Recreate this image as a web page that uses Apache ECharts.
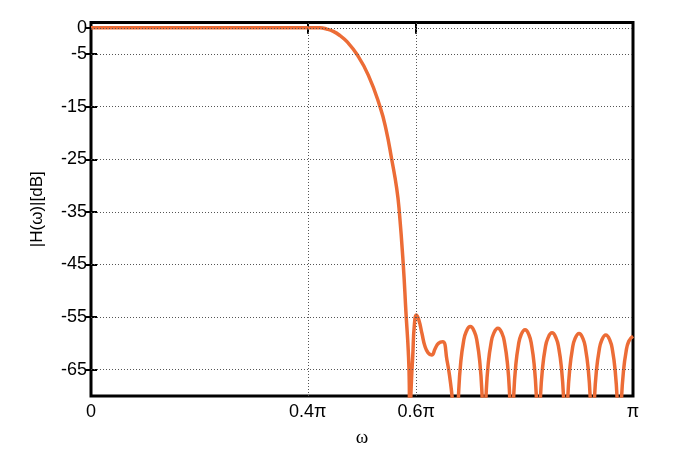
<!DOCTYPE html>
<html>
<head>
<meta charset="utf-8">
<script src="https://cdn.jsdelivr.net/npm/echarts@6/dist/echarts.min.js"></script>
<style>
html,body{margin:0;padding:0;background:#fff;}
#chart{width:700px;height:466px;}
</style>
</head>
<body>
<div id="chart"></div>
<script>
// frequency in units of pi
var omega = [
  0, 0.10, 0.20, 0.30, 0.40, 0.4225, 0.435, 0.4470, 0.4595, 0.4718, 0.4902, 0.5116, 0.5332, 0.5443, 0.5548, 0.5640, 0.5688, 0.5762, 0.5812, 0.5854, 0.5873, 0.5886,
  0.5898, 0.5915, 0.5936, 0.5966, 0.6005, 0.605, 0.6106, 0.616, 0.622, 0.6286, 0.635, 0.641, 0.649, 0.6568, 0.662, 0.667, 0.6716, 0.6745,
  0.676, 0.6785, 0.6821, 0.6871, 0.6922, 0.6998, 0.7074, 0.7125, 0.7175, 0.7211, 0.7236, 0.7251,
  0.7266, 0.7292, 0.7328, 0.7379, 0.743, 0.7507, 0.7583, 0.7634, 0.7685, 0.7721, 0.7747, 0.7762,
  0.7777, 0.7801, 0.7836, 0.7885, 0.7934, 0.8008, 0.8081, 0.813, 0.8179, 0.8214, 0.8238, 0.8253,
  0.8268, 0.8293, 0.8329, 0.8379, 0.843, 0.8506, 0.8581, 0.8632, 0.8682, 0.8718, 0.8743, 0.8758,
  0.8773, 0.8797, 0.8832, 0.8881, 0.893, 0.9004, 0.9077, 0.9126, 0.9175, 0.921, 0.9234, 0.9249,
  0.9264, 0.9289, 0.9324, 0.9374, 0.9423, 0.9498, 0.9573, 0.9623, 0.9672, 0.9707, 0.9732, 0.9747,
  0.9762, 0.9787, 0.9822, 0.9872, 0.9922, 1.0
];
// magnitude in dB
var magnitudeDb = [
  0, 0, 0, 0, 0, 0, -0.25, -0.7, -1.5, -2.6, -5.0, -9.0, -15.0, -19.3, -25.0, -30.5, -34.9, -45.1, -54.3, -61.5, -68.0, -100,
  -72.0, -66.5, -62.5, -56.5, -54.6, -55.6, -58.1, -60.5, -61.8, -62.2, -61.0, -60.0, -59.7, -63.2, -66.5, -71.0, -78.0, -100,
  -77.3, -68.9, -63.7, -59.8, -57.8, -56.8, -57.8, -59.8, -63.7, -68.9, -77.3, -100,
  -77.6, -69.2, -64.0, -60.1, -58.1, -57.1, -58.1, -60.1, -64.0, -69.2, -77.6, -100,
  -77.9, -69.5, -64.3, -60.4, -58.4, -57.4, -58.4, -60.4, -64.3, -69.5, -77.9, -100,
  -78.5, -70.1, -64.9, -61.0, -59.0, -58.0, -59.0, -61.0, -64.9, -70.1, -78.5, -100,
  -78.6, -70.2, -65.0, -61.1, -59.1, -58.1, -59.1, -61.1, -65.0, -70.2, -78.6, -100,
  -78.9, -70.5, -65.3, -61.4, -59.4, -58.4, -59.4, -61.4, -65.3, -70.5, -78.9, -100,
  -79.1, -70.7, -65.5, -61.6, -59.6, -58.6
];
var xTicks = [0, 0.4, 0.6, 1];
var xTickLabels = ['0', '0.4\u03c0', '0.6\u03c0', '\u03c0'];
var yTicks = [0, -5, -15, -25, -35, -45, -55, -65];
var xGrid = [0.4, 0.6];

var seriesData = omega.map(function (w, i) { return [w, magnitudeDb[i]]; });

var gridMarks = [];
yTicks.forEach(function (v) { gridMarks.push({ yAxis: v }); });
xGrid.forEach(function (v) { gridMarks.push({ xAxis: v }); });

var chart = echarts.init(document.getElementById('chart'), null, { renderer: 'canvas' });
var labelFont = { fontFamily: '"Liberation Sans", Arial, sans-serif', fontSize: 18, color: '#000' };
chart.setOption({
  animation: false,
  backgroundColor: '#fff',
  grid: { left: 91, right: 67, top: 22.5, bottom: 70, show: true, borderColor: '#000', borderWidth: 3, backgroundColor: 'transparent' },
  xAxis: [{
    type: 'value', min: 0, max: 1, position: 'bottom',
    name: '\u03c9', nameLocation: 'middle', nameGap: 33,
    nameTextStyle: { fontFamily: '"Liberation Serif", "Times New Roman", serif', fontSize: 19, color: '#000' },
    axisLine: { show: false },
    axisTick: { show: true, inside: true, length: 6, customValues: xGrid, lineStyle: { color: '#000', width: 2 } },
    axisLabel: Object.assign({ margin: 7, customValues: xTicks, formatter: function (v) { var i = xTicks.indexOf(v); return i >= 0 ? xTickLabels[i] : ''; } }, labelFont),
    splitLine: { show: false }
  }, {
    type: 'value', min: 0, max: 1, position: 'top',
    axisLine: { show: false },
    axisTick: { show: true, inside: true, length: 6, customValues: xGrid, lineStyle: { color: '#000', width: 2 } },
    axisLabel: { show: false },
    splitLine: { show: false }
  }],
  yAxis: [{
    type: 'value', min: -70, max: 1, position: 'left',
    name: '|H(\u03c9)|[dB]', nameLocation: 'middle', nameGap: 45, nameRotate: 90,
    nameTextStyle: { fontFamily: '"Liberation Sans", Arial, sans-serif', fontSize: 17, color: '#000' },
    axisLine: { show: false },
    axisTick: { show: true, inside: true, length: 6, customValues: yTicks, lineStyle: { color: '#000', width: 2 } },
    axisLabel: Object.assign({ margin: 4, customValues: yTicks }, labelFont),
    splitLine: { show: false }
  }, {
    type: 'value', min: -70, max: 1, position: 'right',
    axisLine: { show: false },
    axisTick: { show: true, inside: true, length: 6, customValues: yTicks, lineStyle: { color: '#000', width: 2 } },
    axisLabel: { show: false },
    splitLine: { show: false }
  }],
  series: [{
    type: 'line', z: 1, data: [], silent: true,
    markLine: {
      silent: true, symbol: ['none', 'none'], label: { show: false },
      lineStyle: { color: '#555', type: [1, 2], width: 1 },
      emphasis: { disabled: true },
      data: gridMarks
    }
  }, {
    type: 'line', z: 3, data: seriesData, showSymbol: false, symbol: 'none',
    smooth: 0.5, clip: true,
    lineStyle: { color: '#EC6C36', width: 3.5 }
  }]
});
</script>
</body>
</html>
